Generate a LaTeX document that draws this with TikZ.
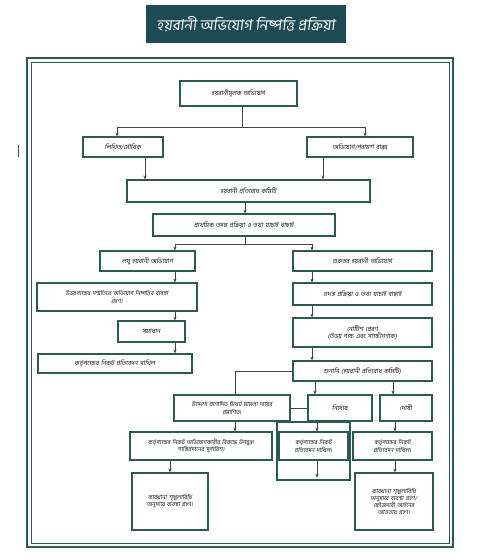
\documentclass[tikz,border=0pt]{standalone}
\usepackage{fontspec}
\newfontfamily\bn[Script=Bengali,FakeSlant=0.12]{Hind Siliguri}
\usetikzlibrary{arrows.meta,calc}
\definecolor{titleC}{HTML}{1D4A55}
\definecolor{boxC}{HTML}{2A5A53}
\definecolor{frameC}{HTML}{2A5A55}
\definecolor{lineC}{HTML}{444444}
\tikzset{
  bx/.style={draw=boxC, line width=1.2pt, fill=white, inner sep=1pt, align=center,
    font=\bn\fontsize{6.3}{7.6}\selectfont, text=black!90},
  small/.style={font=\bn\fontsize{5.8}{7.2}\selectfont},
  arr/.style={draw=lineC, line width=0.7pt, -{Stealth[length=3.8pt,width=3.2pt]}},
  ln/.style={draw=lineC, line width=0.7pt},
}
\newcommand\mkbox[7][]{%
  \pgfmathsetmacro\bw{#5-#3}\pgfmathsetmacro\bh{#6-#4}\pgfmathsetmacro\tw{#5-#3-4}%
  \pgfmathsetmacro\cx{(#3+#5)/2}\pgfmathsetmacro\cy{(#4+#6)/2}%
  \node[bx,minimum width=\bw pt,minimum height=\bh pt,text width=\tw pt,#1] (#2) at (\cx,\cy) {#7};}
\begin{document}
\begin{tikzpicture}[x=1pt,y=-1pt]
\useasboundingbox (0,0) rectangle (480,560);
% title
\node[fill=titleC, minimum width=200pt, minimum height=38pt, text=white,
  font=\bn\fontsize{15}{17}\selectfont] (title) at (246,24) {হয়রানী অভিযোগ নিষ্পত্তি প্রক্রিয়া};
% frame
\draw[frameC, line width=1.8pt] (27,58) rectangle (453,547);
\draw[frameC, line width=0.7pt] (31,62) rectangle (449,543);
\draw[black!70, line width=0.6pt] (18,145) -- (18,157);
% x coordinates
\foreach \n/\v in {xa/242,xb/117,xc/365,xd/145,xe/323,xf/245,xg/175,xh/312,xi/235,xj/315,xk/393,xl/317,xm/395,xn/170}
  {\coordinate (\n) at (\v,0);}
% boxes
\mkbox[line width=1.9pt]{A}{180}{81}{297}{106}{হয়রানীমূলক অভিযোগ}
\mkbox{B}{83}{137}{163}{157}{লিখিত/মৌখিক}
\mkbox{C}{307}{137}{413}{157}{অভিযোগ/পরামর্শ বাক্স}
\mkbox{D}{127}{180}{370}{202}{হয়রানী প্রতিরোধ কমিটি}
\mkbox{E}{153}{214}{335}{236}{প্রাথমিক তদন্ত প্রক্রিয়া ও তথ্য যাচাই বাছাই}
\mkbox{F}{100}{251}{195}{271}{লঘু হয়রানী অভিযোগ}
\mkbox{G}{293}{251}{432}{271}{গুরুতর হয়রানী অভিযোগ}
\mkbox[small]{H}{37}{283}{197}{311}{উভয়পক্ষের সম্মতিতে অভিযোগ নিষ্পত্তির ব্যবস্থা\\ গ্রহণ।}
\mkbox{I}{293}{283}{432}{305}{তদন্ত প্রক্রিয়া ও তথ্য যাচাই বাছাই}
\mkbox{J}{118}{321}{185}{342}{সমাধান}
\mkbox{K}{293}{318}{432}{347}{নোটিশ প্রেরণ\\(উভয় পক্ষ এবং সাক্ষীগণকে)}
\mkbox{L}{38}{354}{192}{373}{কর্তৃপক্ষের নিকট প্রতিবেদন দাখিল}
\mkbox{M}{293}{361}{432}{381}{শুনানি (হয়রানী প্রতিরোধ কমিটি)}
\mkbox[small]{N}{174}{395}{290}{421}{উদ্দেশ্য প্রণোদিত মিথ্যা মামলা দায়ের\\প্রমাণিত।}
\mkbox{O}{308}{395}{372}{421}{নির্দোষ}
\mkbox{P}{380}{395}{432}{421}{দোষী}
\mkbox{Rb}{277}{422}{350}{480}{}
\mkbox[small]{Q}{130}{432}{272}{460}{কর্তৃপক্ষের নিকট অভিযোগকারীর বিরুদ্ধে উপযুক্ত\\ শাস্তিপ্রদানের সুপারিশ।}
\mkbox[small]{R}{279}{432}{348}{460}{কর্তৃপক্ষের নিকট\\প্রতিবেদন দাখিল।}
\mkbox[small]{S}{353}{432}{432}{460}{কর্তৃপক্ষের নিকট\\প্রতিবেদন দাখিল।}
\mkbox[small]{T}{132}{473}{208}{530}{কারখানা শৃঙ্খলাবিধি\\অনুসারে ব্যবস্থা গ্রহণ।}
\mkbox[small]{U}{355}{473}{433}{530}{কারখানা শৃঙ্খলাবিধি\\অনুসারে ব্যবস্থা গ্রহণ/\\ফৌজদারী আইনের\\আওতায় গ্রহণ।}
% branch points
\coordinate (br1) at (242,127);
\coordinate (brL) at (117,127);
\coordinate (brR) at (365,127);
\coordinate (br2) at (245,244);
\coordinate (br2L) at (175,244);
\coordinate (br2R) at (312,244);
% connectors
\draw[ln] (A.south -| xa) -- (br1);
\draw[ln] (brL) -- (brR);
\draw[arr] (brL) -- (B.north -| brL);
\draw[arr] (brR) -- (C.north -| brR);
\draw[arr] (B.south -| xd) -- (D.north -| xd);
\draw[arr] (C.south -| xe) -- (D.north -| xe);
\draw[arr] (D.south -| xf) -- (E.north -| xf);
\draw[ln] (E.south -| xf) -- (br2);
\draw[ln] (br2L) -- (br2R);
\draw[arr] (br2L) -- (F.north -| br2L);
\draw[arr] (br2R) -- (G.north -| br2R);
\draw[arr] (F.south -| xg) -- (H.north -| xg);
\draw[arr] (H.south -| xg) -- (J.north -| xg);
\draw[arr] (J.south -| xg) -- (L.north -| xg);
\draw[arr] (G.south -| xh) -- (I.north -| xh);
\draw[arr] (I.south -| xh) -- (K.north -| xh);
\draw[arr] (K.south -| xh) -- (M.north -| xh);
\draw[ln] (M.west) -| (N.north -| xi);
\draw[arr] (M.south -| xj) -- (O.north -| xj);
\draw[arr] (M.south -| xk) -- (P.north -| xk);
\draw[ln] (N.east) -- (O.west);
\draw[arr] (N.south -| xi) -- (Q.north -| xi);
\draw[arr] (O.south -| xl) -- (R.north -| xl);
\draw[arr] (P.south -| xm) -- (S.north -| xm);
\draw[arr] (Q.south -| xn) -- (T.north -| xn);
\draw[arr, shorten >=3pt] (R.south -| xl) -- (Rb.south -| xl);
\draw[arr] (S.south -| xm) -- (U.north -| xm);
\end{tikzpicture}
\end{document}
